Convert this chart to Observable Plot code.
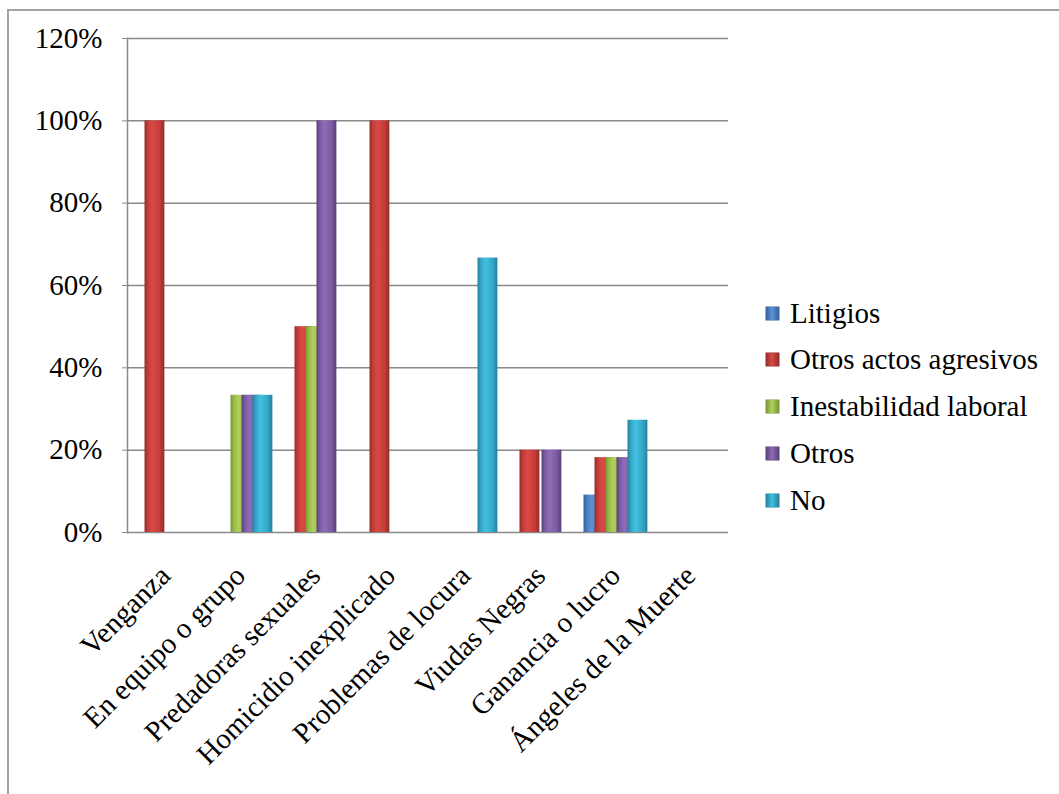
<!DOCTYPE html>
<html>
<head>
<meta charset="utf-8">
<script src="https://cdn.jsdelivr.net/npm/d3@7"></script>
<script src="https://cdn.jsdelivr.net/npm/@observablehq/plot@0.6"></script>
<style>
  html, body { margin: 0; padding: 0; background: #fff; }
  #wrap { position: relative; width: 1059px; height: 794px; overflow: hidden; font-family: "Liberation Serif", "DejaVu Serif", serif; }
  #border { position: absolute; left: 7px; top: 9px; right: -10px; bottom: -10px; border-left: 2px solid #a3a3a3; border-top: 2px solid #a3a3a3; }
  #chart { position: absolute; left: 0; top: 0; }
  #legend { position: absolute; left: 766px; top: 290px; }
  .row { position: absolute; left: 0; white-space: nowrap; height: 30px; }
  .sw { position: absolute; left: 0; top: 9px; width: 13px; height: 13px; }
  .lab { position: absolute; left: 24px; top: 0; font-size: 29px; line-height: 30px; color: #000; font-family: "Liberation Serif", "DejaVu Serif", serif; }
</style>
</head>
<body>
<div id="wrap">
  <div id="border"></div>
  <div id="chart"></div>
  <div id="legend"></div>
</div>
<script>
// ---- data ----
const categories = ["Venganza", "En equipo o grupo", "Predadoras sexuales", "Homicidio inexplicado", "Problemas de locura", "Viudas Negras", "Ganancia o lucro", "Ángeles de la Muerte"];
const series = ["Litigios", "Otros actos agresivos", "Inestabilidad laboral", "Otros", "No"];
const litigios       = [0, 0,      0,   0, 0,      0,   0.0909, 0];
const otrosActos     = [1, 0,      0.5, 1, 0,      0.2, 0.1818, 0];
const inestabilidad  = [0, 0.3333, 0.5, 0, 0,      0,   0.1818, 0];
const otros          = [0, 0.3333, 1,   0, 0,      0.2, 0.1818, 0];
const no             = [0, 0.3333, 0,   0, 0.6667, 0,   0.2727, 0];
const yTicks = [0, 0.2, 0.4, 0.6, 0.8, 1.0, 1.2];

const seriesValues = [litigios, otrosActos, inestabilidad, otros, no];
const colors = [
  {id: "g0", light: "#5b93d8", mid: "#4a7fc0", dark: "#35609a"},
  {id: "g1", light: "#d84a45", mid: "#c53d39", dark: "#962c2a"},
  {id: "g2", light: "#b0d05a", mid: "#9bbb4c", dark: "#789635"},
  {id: "g3", light: "#8f6cb8", mid: "#7d5ca3", dark: "#5a4079"},
  {id: "g4", light: "#42c0e0", mid: "#35a8c8", dark: "#26819c"}
];

// ---- layout ----
const W = 760, H = 794;
const mL = 127, mR = W - 728, mT = 38, mB = H - 532;
const bw = (W - mL - mR) / categories.length;
const barW = 20, step = 11, first = 5.5;
const FONT = "'Liberation Serif', 'DejaVu Serif', serif";

const rows = [];
seriesValues.forEach((vals, i) => {
  categories.forEach((c, j) => rows.push({category: c, series: series[i], si: i, value: vals[j]}));
});

const barMarks = series.map((s, i) =>
  Plot.rectY(rows.filter(d => d.si === i && d.value > 0), {
    x: "category",
    y: "value",
    fill: `url(#${colors[i].id})`,
    insetLeft: first + step * i,
    insetRight: bw - (first + step * i) - barW
  })
);

const svg = Plot.plot({
  width: W,
  height: H,
  marginLeft: mL,
  marginRight: mR,
  marginTop: mT,
  marginBottom: mB,
  style: {fontFamily: FONT, color: "#000", background: "transparent", overflow: "visible"},
  x: {type: "band", domain: categories, padding: 0, axis: null},
  y: {domain: [0, 1.2], axis: null},
  marks: [
    Plot.gridY(yTicks, {stroke: "#8a8a8a", strokeOpacity: 1, strokeWidth: 1.5}),
    Plot.frame({anchor: "left", stroke: "#8a8a8a", strokeWidth: 1.5}),
    Plot.axisY(yTicks, {
      tickSize: 5, tickPadding: 20, stroke: "#8a8a8a",
      tickFormat: d3.format(".0%"), fontSize: 29, fontFamily: FONT, label: null
    }),
    ...barMarks,
    Plot.text(categories, {
      x: d => d, frameAnchor: "bottom", rotate: -45, textAnchor: "end",
      dx: 6, dy: 45, fontSize: 29, fontFamily: FONT, fill: "#000"
    })
  ]
});

// gradients for the bevelled bar look
const defs = d3.select(svg).insert("defs", ":first-child");
colors.forEach(c => {
  const g = defs.append("linearGradient").attr("id", c.id).attr("x1", "0").attr("x2", "1").attr("y1", "0").attr("y2", "0");
  g.append("stop").attr("offset", "0%").attr("stop-color", c.dark);
  g.append("stop").attr("offset", "18%").attr("stop-color", c.mid);
  g.append("stop").attr("offset", "40%").attr("stop-color", c.light);
  g.append("stop").attr("offset", "75%").attr("stop-color", c.mid);
  g.append("stop").attr("offset", "100%").attr("stop-color", c.dark);
});

document.getElementById("chart").appendChild(svg);

// legend
const legend = d3.select("#legend");
const rowTops = [8, 54, 101, 148, 195];
series.forEach((s, i) => {
  const r = legend.append("div").attr("class", "row").style("top", rowTops[i] + "px");
  r.append("div").attr("class", "sw")
    .style("background", `linear-gradient(to right, ${colors[i].dark}, ${colors[i].light} 45%, ${colors[i].dark})`)
    .style("box-shadow", "0 0 0 0.5px " + colors[i].dark);
  r.append("div").attr("class", "lab").text(s);
});
</script>
</body>
</html>
